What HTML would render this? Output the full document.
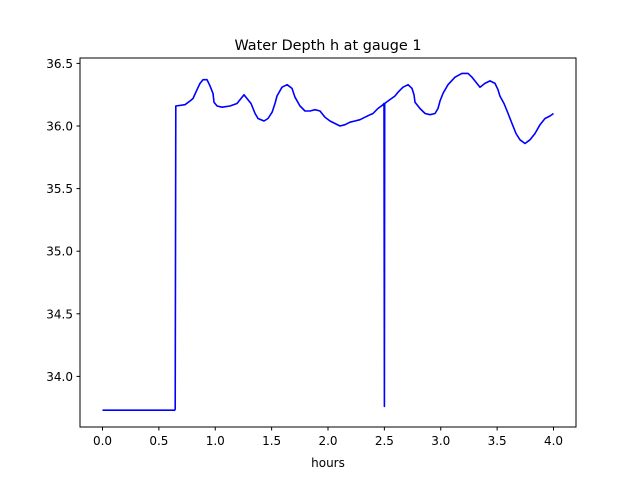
<!DOCTYPE html>
<html><head><meta charset="utf-8"><style>
body{margin:0;background:#fff;}
svg text{font-family:"DejaVu Sans","Liberation Sans",sans-serif;fill:#000;}
</style></head><body>
<svg id="chart" width="640" height="480">
<rect width="640" height="480" fill="#fff"/>
<text x="328" y="50" font-size="14.4" text-anchor="middle">Water Depth h at gauge 1</text>
<g id="ticks"></g>
<path id="line" fill="none" stroke="#0000ff" stroke-width="1.6" stroke-linejoin="round"/>
<rect x="80" y="58" width="496" height="369" fill="none" stroke="#000" stroke-width="1"/>
<text x="328" y="467" font-size="12" text-anchor="middle">hours</text>
</svg>
<script>
const hours = [0,0.64,0.645,0.65,0.732,0.776,0.803,0.838,0.865,0.891,0.927,0.953,0.98,0.989,1.016,1.06,1.131,1.193,1.246,1.255,1.317,1.353,1.379,1.432,1.468,1.504,1.53,1.548,1.592,1.637,1.681,1.707,1.752,1.796,1.84,1.885,1.929,1.973,2.018,2.062,2.106,2.151,2.195,2.239,2.284,2.328,2.373,2.399,2.443,2.488,2.497,2.5,2.503,2.532,2.594,2.621,2.665,2.71,2.745,2.763,2.772,2.816,2.861,2.905,2.949,2.976,2.993,3.02,3.064,3.126,3.188,3.242,3.277,3.313,3.348,3.392,3.437,3.481,3.508,3.525,3.561,3.597,3.632,3.667,3.703,3.747,3.792,3.836,3.88,3.925,3.969,4.0];
const depth = [33.73,33.73,33.74,36.16,36.17,36.2,36.22,36.29,36.34,36.37,36.37,36.32,36.26,36.19,36.16,36.15,36.16,36.18,36.24,36.25,36.18,36.1,36.06,36.04,36.06,36.11,36.18,36.24,36.31,36.33,36.3,36.23,36.16,36.12,36.12,36.13,36.12,36.07,36.04,36.02,36.0,36.01,36.03,36.04,36.05,36.07,36.09,36.1,36.14,36.17,36.18,33.76,36.18,36.2,36.24,36.27,36.31,36.33,36.3,36.25,36.19,36.14,36.1,36.09,36.1,36.14,36.2,36.26,36.33,36.39,36.42,36.42,36.39,36.35,36.31,36.34,36.36,36.34,36.29,36.24,36.18,36.1,36.02,35.94,35.89,35.86,35.89,35.94,36.01,36.06,36.08,36.1];
const xTicks = [0,0.5,1,1.5,2,2.5,3,3.5,4];
const xTickLabels = ["0.0","0.5","1.0","1.5","2.0","2.5","3.0","3.5","4.0"];
const yTicks = [34,34.5,35,35.5,36,36.5];
const yTickLabels = ["34.0","34.5","35.0","35.5","36.0","36.5"];
const X = v => 102.5 + v*112.75;
const Y = v => 126 - (v-36)*125.2;
const NS="http://www.w3.org/2000/svg";
const g=document.getElementById('ticks');
xTicks.forEach((t,i)=>{
  const l=document.createElementNS(NS,'line');
  l.setAttribute('x1',X(t));l.setAttribute('x2',X(t));l.setAttribute('y1',427);l.setAttribute('y2',430.5);l.setAttribute('stroke','#000');
  
  
  g.appendChild(l);
  const tx=document.createElementNS(NS,'text');
  tx.setAttribute('x',X(t));tx.setAttribute('y',445);tx.setAttribute('font-size','12');tx.setAttribute('text-anchor','middle');
  tx.textContent=xTickLabels[i];
  
  
  g.appendChild(tx);
});
yTicks.forEach((t,i)=>{
  const l=document.createElementNS(NS,'line');
  l.setAttribute('x1',76.5);l.setAttribute('x2',80);l.setAttribute('y1',Y(t));l.setAttribute('y2',Y(t));l.setAttribute('stroke','#000');
  
  
  g.appendChild(l);
  const tx=document.createElementNS(NS,'text');
  tx.setAttribute('x',73);tx.setAttribute('y',Y(t)+4.5);tx.setAttribute('font-size','12');tx.setAttribute('text-anchor','end');
  tx.textContent=yTickLabels[i];
  
  
  g.appendChild(tx);
});
document.getElementById('line').setAttribute('d',hours.map((h,i)=>(i?'L':'M')+X(h).toFixed(1)+','+Y(depth[i]).toFixed(1)).join(''));
</script>
</body></html>
